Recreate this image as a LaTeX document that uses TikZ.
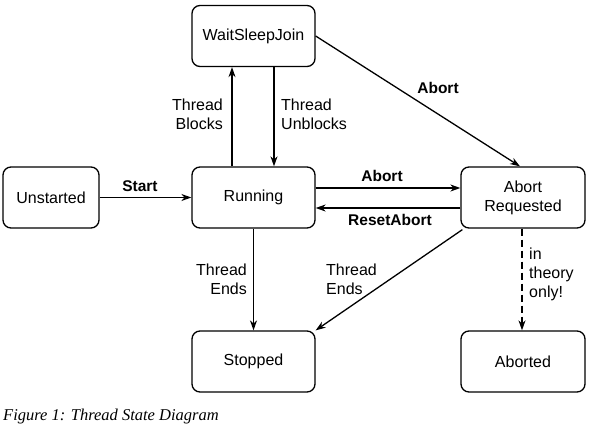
\documentclass[tikz,border=0pt]{standalone}
\usepackage{fontspec}
\setmainfont{Liberation Sans}
\newfontfamily\capfont{Liberation Serif}
\usetikzlibrary{arrows.meta}
\begin{document}
\begin{tikzpicture}[x=1pt,y=-1pt,
  state/.style={draw,line width=1.3pt,rounded corners=8pt,minimum width=123pt,minimum height=61pt,inner sep=0pt,align=center,font=\fontsize{16}{19}\selectfont},
  conn/.style={line width=1.3pt,-{Stealth[length=10pt,width=7pt]}},
  lbl/.style={font=\fontsize{16}{19}\selectfont,inner sep=0pt},
  blbl/.style={font=\bfseries\fontsize{15.5}{18.5}\selectfont,inner sep=0pt}]
\useasboundingbox (0,0) rectangle (591,428);
\fill[white] (0,0) rectangle (591,428);
\node[state] (wsj) at (253.5,36) {WaitSleepJoin};
\node[state,minimum width=96pt] (uns) at (51,197.5) {Unstarted};
\node[state] (run) at (253.5,197.5) {Running};
\node[state,minimum width=124pt] (ar) at (523,197.5) {Abort\\Requested};
\node[state] (stop) at (253.5,361.5) {Stopped};
\node[state,minimum width=124pt] (abd) at (523,361.5) {Aborted};

\draw[conn] (uns.east) -- (run.west);
\draw[conn] (run.north -| 232,0) -- (wsj.south -| 232,0);
\draw[conn] (wsj.south -| 274,0) -- (run.north -| 274,0);
\draw[conn] (run.east |- 0,188) -- (ar.west |- 0,188);
\draw[conn] (ar.west |- 0,208) -- (run.east |- 0,208);
\draw[conn] (wsj.east) -- (ar.north -| 520,0);
\draw[conn] (run.south) -- (stop.north);
\draw[conn] (ar.south west) ++(2,1) coordinate (arsw) (arsw) -- (stop.north east);
\draw[conn,dashed,dash pattern=on 7pt off 4pt] (ar.south -| 522,0) -- (abd.north -| 522,0);

\node[blbl] (lstart) at (140,186) {Start};
\node[lbl,align=right,anchor=east] (lblk) at (223,114) {Thread\\Blocks};
\node[lbl,align=left,anchor=west] (lunb) at (281,114) {Thread\\Unblocks};
\node[blbl] (lab1) at (438,88) {Abort};
\node[blbl] (lab2) at (382,176) {Abort};
\node[blbl] (lrst) at (390,220) {ResetAbort};
\node[lbl,align=right,anchor=east] (lend1) at (247,279) {Thread\\Ends};
\node[lbl,align=left,anchor=west] (lend2) at (326,279) {Thread\\Ends};
\node[lbl,align=left,anchor=west,font=\fontsize{16}{19}\selectfont] (lth) at (529,274) {in\\theory\\only!};
\node[anchor=west,inner sep=0pt,font=\capfont\itshape\fontsize{16.5}{19}\selectfont] (cap) at (3,417) {Figure 1: Thread State Diagram};
\end{tikzpicture}
\end{document}
